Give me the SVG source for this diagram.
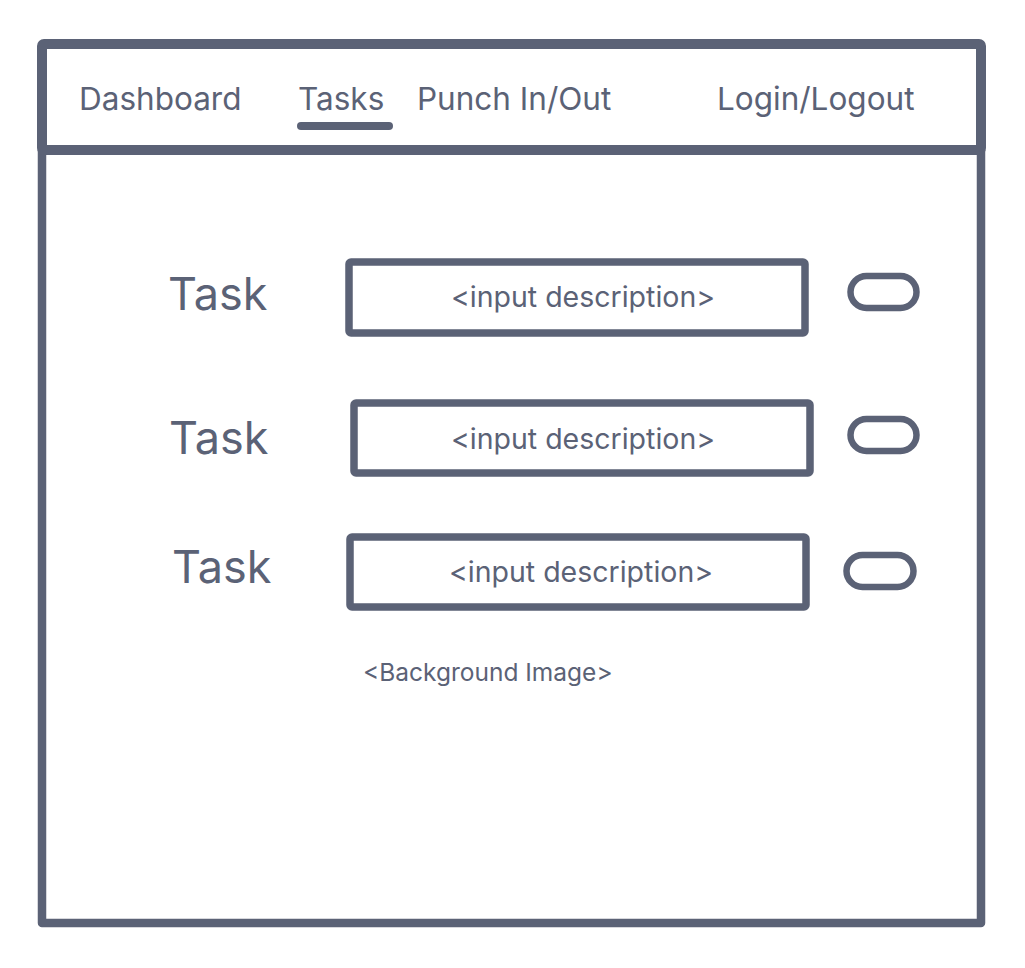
<svg xmlns="http://www.w3.org/2000/svg" width="1025" height="968" viewBox="0 0 1025 968">
  <style>
    .ln { fill: none; stroke: #5b6276; stroke-linejoin: round; stroke-linecap: round; }
    .t { font-family: Inter, "Noto Sans", "Liberation Sans", sans-serif; fill: #5b6276; }
    .nav { font-size: 31.5px; }
    .task { font-size: 45px; }
    .inp { font-size: 28.5px; text-anchor: middle; }
    .bg { font-size: 24.5px; }
  </style>
  <rect width="1025" height="968" fill="#ffffff"/>
  <g id="frame">
    <path class="ln" stroke-width="8.5" d="M42 150 L42 923 L981 923 L981 150"/>
    <rect class="ln" stroke-width="10" x="42" y="44" width="939" height="106" rx="2"/>
  </g>
  <g id="nav">
    <text class="t nav" x="79" y="110">Dashboard</text>
    <text class="t nav" x="298" y="110">Tasks</text>
    <path class="ln" stroke-width="8" d="M301 126 L389 126"/>
    <text class="t nav" x="417" y="110">Punch In/Out</text>
    <text class="t nav" x="717" y="110">Login/Logout</text>
  </g>
  <g id="row1">
    <text class="t task" x="168" y="310">Task</text>
    <rect class="ln" stroke-width="7.5" x="349" y="262" width="456" height="71" rx="2"/>
    <text class="t inp" x="583" y="307">&lt;input description&gt;</text>
    <rect class="ln" stroke-width="6.5" x="850.5" y="276" width="66" height="32" rx="16"/>
  </g>
  <g id="row2">
    <text class="t task" x="169" y="454">Task</text>
    <rect class="ln" stroke-width="7.5" x="354" y="403" width="456" height="70" rx="2"/>
    <text class="t inp" x="583" y="449">&lt;input description&gt;</text>
    <rect class="ln" stroke-width="6.5" x="850.5" y="419" width="66" height="32" rx="16"/>
  </g>
  <g id="row3">
    <text class="t task" x="172" y="583">Task</text>
    <rect class="ln" stroke-width="7.5" x="350" y="537" width="456" height="70" rx="2"/>
    <text class="t inp" x="581" y="582">&lt;input description&gt;</text>
    <rect class="ln" stroke-width="6.5" x="846.5" y="555" width="67" height="32" rx="16"/>
  </g>
  <g id="background-label">
    <text class="t bg" x="363" y="681">&lt;Background Image&gt;</text>
  </g>
  <g id="connectors"/>
</svg>
